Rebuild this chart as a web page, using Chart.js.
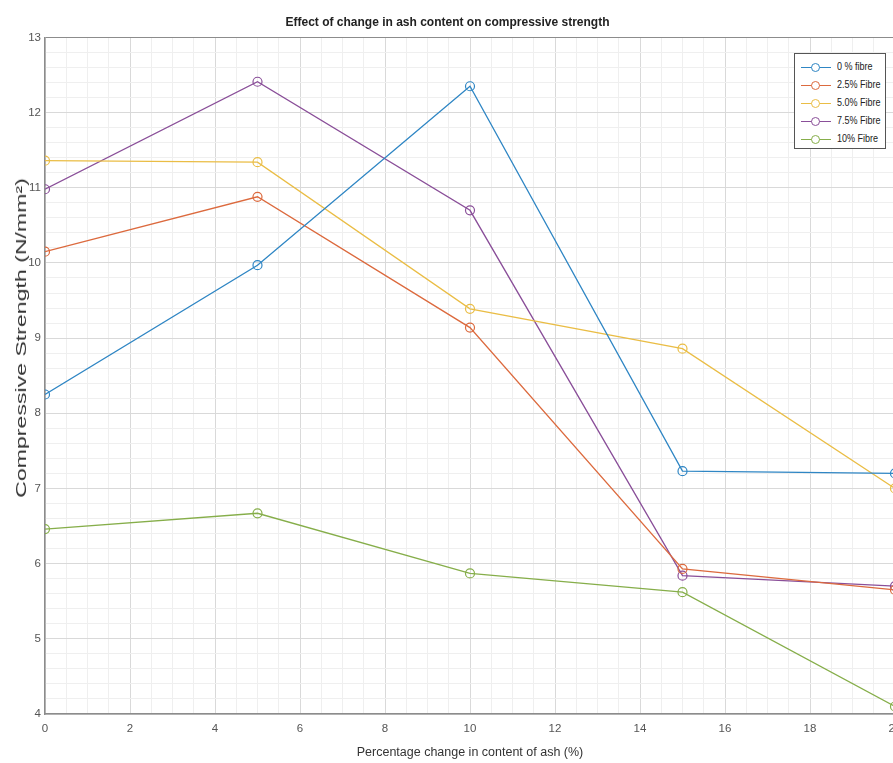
<!DOCTYPE html>
<html>
<head>
<meta charset="utf-8">
<title>Effect of change in ash content on compressive strength</title>
<script src="https://cdn.jsdelivr.net/npm/chart.js@4.4.1/dist/chart.umd.min.js"></script>
<style>
    body { margin: 0; overflow: hidden; background: #fff; }
    #box { position: relative; width: 893px; height: 763px; overflow: hidden; }
    #grafico { position: absolute; left: 0; top: 0; }
    #legenda {
        position: absolute; left: 794px; top: 53px; width: 92px; height: 96px;
        background: #fff; border: 1px solid #555; box-sizing: border-box;
        font-family: "Liberation Sans", Arial, sans-serif;
        font-size: 11px; color: #222;
    }
    .linha { position: absolute; left: 0; width: 92px; height: 18px; }
    .traco { position: absolute; left: 6px; top: 8px; width: 30px; height: 0; border-top: 1px solid; }
    .bola { position: absolute; left: 16px; top: 4px; width: 7px; height: 7px; border: 1px solid; border-radius: 50%; background: #fff; }
    .texto { position: absolute; left: 42px; top: 1px; white-space: nowrap; transform: scaleX(0.82); transform-origin: 0 50%; }
    #tituloY {
        position: absolute; left: 21px; top: 338px; white-space: nowrap;
        font-family: "Liberation Sans", Arial, sans-serif; font-size: 14px; color: #333;
        transform: translate(-50%, -50%) rotate(-90deg) scaleX(1.65);
    }
</style>
</head>
<body>
<div id="box">
    <canvas id="grafico" width="910" height="763"></canvas>
    <div id="legenda"></div>
    <div id="tituloY">Compressive Strength (N/mm²)</div>
</div>
<script>
// valores
const cinza = [0, 5, 10, 15, 20];
const fibra0 = [8.25, 9.97, 12.35, 7.23, 7.2];
const fibra25 = [10.15, 10.88, 9.14, 5.93, 5.65];
const fibra50 = [11.36, 11.34, 9.39, 8.86, 7.0];
const fibra75 = [10.98, 12.41, 10.7, 5.84, 5.7];
const fibra100 = [6.46, 6.67, 5.87, 5.62, 4.1];

const nomes = ['0 % fibre', '2.5% Fibre', '5.0% Fibre', '7.5% Fibre', '10% Fibre'];
const cores = ['#2f86c4', '#dc6a3e', '#eabd45', '#8a4f99', '#86ae4a'];
const series = [fibra0, fibra25, fibra50, fibra75, fibra100];

const fonte = '"Liberation Sans", Arial, sans-serif';

function ehInteiro(v, passo) {
    let r = v / passo;
    return Math.abs(r - Math.round(r)) < 1e-6;
}

function corGrade(passo, ultimo) {
    return function (ctx) {
        let v = ctx.tick ? ctx.tick.value : 0;
        if (ultimo !== undefined && Math.abs(v - ultimo) < 1e-6) return '#8c8c8c';
        return ehInteiro(v, passo) ? '#d9d9d9' : '#efefef';
    };
}

let datasets = [];
for (let i = 0; i < series.length; i++) {
    let pontos = [];
    for (let j = 0; j < cinza.length; j++) {
        pontos.push({ x: cinza[j], y: series[i][j] });
    }
    datasets.push({
        label: nomes[i],
        data: pontos,
        borderColor: cores[i],
        backgroundColor: 'transparent',
        borderWidth: 1.3,
        pointRadius: 4.5,
        pointBorderWidth: 1.2,
        pointBackgroundColor: 'transparent',
        pointBorderColor: cores[i],
        tension: 0
    });
}

const config = {
    type: 'line',
    data: { datasets: datasets },
    options: {
        responsive: false,
        animation: false,
        layout: { padding: { left: 0, right: 15, top: 0, bottom: 0 } },
        plugins: {
            legend: { display: false },
            tooltip: { enabled: false },
            title: {
                display: true,
                text: 'Effect of change in ash content on compressive strength',
                color: '#222',
                font: { family: fonte, size: 12, weight: 'bold' },
                padding: { top: 15, bottom: 8 }
            }
        },
        scales: {
            x: {
                type: 'linear',
                min: 0,
                max: 20,
                afterFit: function (s) { s.height = 49; },
                grid: { color: corGrade(2), drawTicks: false, lineWidth: 1 },
                border: { display: true, color: '#8c8c8c', width: 1.5 },
                ticks: {
                    stepSize: 0.5,
                    autoSkip: false,
                    maxRotation: 0,
                    padding: 8,
                    color: '#555',
                    font: { family: fonte, size: 11.5 },
                    callback: function (v) { return ehInteiro(v, 2) ? String(Math.round(v)) : ''; }
                },
                title: {
                    display: true,
                    text: 'Percentage change in content of ash (%)',
                    color: '#333',
                    font: { family: fonte, size: 12.5 },
                    padding: { top: 0, bottom: 3 }
                }
            },
            y: {
                type: 'linear',
                min: 4,
                max: 13,
                afterFit: function (s) { s.width = 45; },
                grid: { color: corGrade(1, 13), drawTicks: false, lineWidth: 1 },
                border: { display: true, color: '#8c8c8c', width: 1.5 },
                ticks: {
                    stepSize: 0.2,
                    autoSkip: false,
                    padding: 4,
                    color: '#555',
                    font: { family: fonte, size: 11.5 },
                    callback: function (v) { return ehInteiro(v, 1) ? String(Math.round(v)) : ''; }
                }
            }
        }
    }
};

let ctx = document.getElementById('grafico').getContext('2d');
let meuGrafico = new Chart(ctx, config);

// legenda em html, montada a partir das mesmas listas
let legenda = document.getElementById('legenda');
for (let i = 0; i < nomes.length; i++) {
    let linha = document.createElement('div');
    linha.className = 'linha';
    linha.style.top = (5 + i * 18) + 'px';
    linha.innerHTML = '<span class="traco" style="border-color:' + cores[i] + '"></span>' +
        '<span class="bola" style="border-color:' + cores[i] + '"></span>' +
        '<span class="texto">' + nomes[i] + '</span>';
    legenda.appendChild(linha);
}
</script>
</body>
</html>
